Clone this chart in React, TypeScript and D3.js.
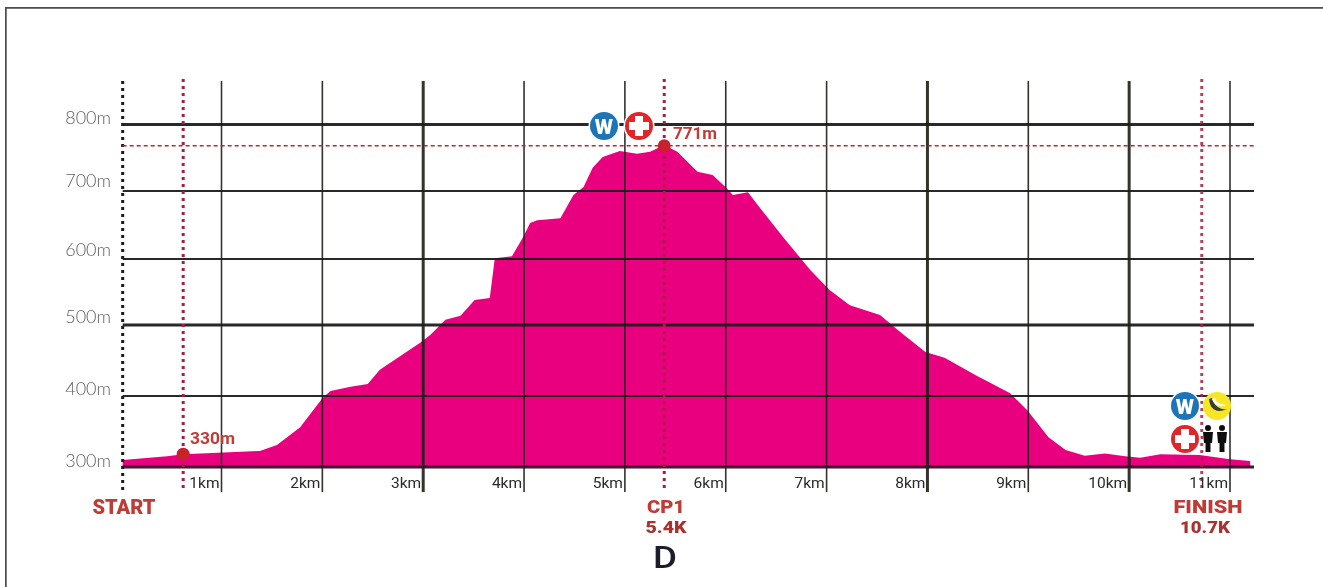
import React from "react";
import * as d3 from "d3";

const W = 1323;
const H = 587;

const kmTicks = [1, 2, 3, 4, 5, 6, 7, 8, 9, 10, 11];
const thickKm = [3, 8, 10];
const elevTicks = [300, 400, 500, 600, 700, 800];
const thickElev = [300, 500, 800];
const elevAxisPx = [467, 396, 325, 259, 191, 124.5];
const elevLabelShift = [0, -1, -2, -3, -4, -0.5];

const profileKm = [
  0.02, 0.46, 0.62, 1.38, 1.55, 1.78, 2.0, 2.08, 2.28, 2.45, 2.57, 2.77, 2.97, 3.07, 3.22, 3.37, 3.51, 3.66, 3.71,
  3.88, 3.99, 4.06, 4.13, 4.36, 4.49, 4.59, 4.68, 4.78, 4.95, 5.12, 5.25, 5.39, 5.52, 5.72, 5.87, 6.01, 6.07, 6.22,
  6.34, 6.57, 6.84, 7.03, 7.23, 7.53, 7.73, 7.98, 8.17, 8.47, 8.82, 8.99, 9.2, 9.37, 9.56, 9.76, 9.96, 10.11, 10.31,
  10.7, 11.0, 11.2,
];
const profileElev = [
  310, 315, 318, 322.5, 331, 356, 397, 407, 413, 417, 437, 456, 475, 486, 508, 514, 538, 541, 601,
  604, 632, 653, 657, 660, 694, 706, 735, 751, 760, 756, 759, 769, 759, 729, 724, 704, 694, 698,
  675, 632, 583, 553, 530, 515, 490, 462, 454, 430, 404, 380, 342, 324, 316, 319, 315, 313, 318,
  317, 311, 308.5,
];

const checkpoints = [
  { km: 0.02, name: "START", sub: "" },
  { km: 0.62, name: "", sub: "" },
  { km: 5.39, name: "CP1", sub: "5.4K" },
  { km: 10.72, name: "FINISH", sub: "10.7K" },
];

const peakElev = 768;
const markerLow = { km: 0.62, elev: 318, label: "330m" };
const markerHigh = { km: 5.39, elev: peakElev, label: "771m" };
const stageLabel = "D";

const RED = "#c8202c";
const DOT = "#a81f45";
const TEXTRED = "#c13a35";
const MAGENTA = "#e9007f";
const INK = "#1d1d1b";

const x = d3.scaleLinear().domain([1, 11]).range([221.5, 1230]);
const y = d3.scaleLinear().domain(elevTicks).range(elevAxisPx);

const areaPath = d3
  .area<number>()
  .x((d) => x(d))
  .y0(y(300))
  .y1((_, i) => y(profileElev[i]))
  .curve(d3.curveLinear)(profileKm) as string;

const X0 = x(0.02);
const XEND = 1254;

function WaterIcon({ cx, cy }: { cx: number; cy: number }) {
  return (
    <g>
      <circle cx={cx} cy={cy} r={15.5} fill="#fff" />
      <circle cx={cx} cy={cy} r={14} fill="#1f75b8" />
      <text x={cx} y={cy + 7.5} textAnchor="middle" fontFamily="Roboto" fontWeight={900} fontSize={21} fill="#fff">W</text>
    </g>
  );
}
function CrossIcon({ cx, cy }: { cx: number; cy: number }) {
  return (
    <g>
      <circle cx={cx} cy={cy} r={15.5} fill="#fff" />
      <circle cx={cx} cy={cy} r={14} fill="#e0262c" />
      <path d={`M${cx - 4} ${cy - 10}h8v6h6v8h-6v6h-8v-6h-6v-8h6z`} fill="#fff" />
    </g>
  );
}
function Banana({ cx, cy }: { cx: number; cy: number }) {
  return (
    <g>
      <circle cx={cx} cy={cy} r={14} fill="#f6e627" />
      <path d={`M${cx - 8} ${cy - 7}C${cx - 7} ${cy + 3} ${cx - 1} ${cy + 8} ${cx + 10} ${cy + 3}C${cx + 3} ${cy + 4} ${cx - 3} ${cy} ${cx - 5} ${cy - 8}Z`} fill="#3b3a32" />
      <path d={`M${cx - 5} ${cy - 7}C${cx - 3} ${cy - 1} ${cx + 3} ${cy + 2} ${cx + 9} ${cy - 1}C${cx + 3} ${cy - 2} ${cx - 1} ${cy - 4} ${cx - 2} ${cy - 8}Z`} fill="#fff" />
    </g>
  );
}
function Person({ cx, top }: { cx: number; top: number }) {
  return (
    <g fill="#111">
      <circle cx={cx} cy={top + 3} r={3} />
      <path d={`M${cx - 5} ${top + 7}h10l-1 11h-1.5v9h-5v-9h-1.5z`} />
    </g>
  );
}

export default function App() {
  return (
    <svg width={W} height={H} viewBox={`0 0 ${W} ${H}`} style={{ position: "absolute", left: 0, top: 0, background: "#fff" }}>
      <defs>
        <filter id="soft" x="0" y="0" width="100%" height="100%">
          <feGaussianBlur stdDeviation="0.55" />
        </filter>
      </defs>
      <g filter="url(#soft)">
        <path d={`M5.5 ${H}V7.5H${W}`} fill="none" stroke="#4d4d4d" strokeWidth={2.4} />

        <path d={areaPath} fill={MAGENTA} />

        {elevTicks.map((t) => (
          <line key={t} x1={X0} x2={XEND} y1={y(t)} y2={y(t)} stroke={t === 300 ? "#3a0a2a" : INK} strokeWidth={thickElev.includes(t) ? 3 : 1.8} opacity={0.95} />
        ))}
        {kmTicks.map((k) => (
          <line key={k} x1={x(k)} x2={x(k)} y1={81} y2={492} stroke={INK} strokeWidth={thickKm.includes(k) ? 3 : 1.6} opacity={0.9} />
        ))}

        <line x1={X0} x2={X0} y1={81} y2={492} stroke={INK} strokeWidth={3} strokeDasharray="3 4" />
        <line x1={x(0.62)} x2={x(0.62)} y1={79} y2={492} stroke={DOT} strokeWidth={3} strokeDasharray="3 4" />
        <line x1={x(5.39)} x2={x(5.39)} y1={79} y2={492} stroke={DOT} strokeWidth={3} strokeDasharray="3 4" />
        <line x1={x(10.72)} x2={x(10.72)} y1={79} y2={492} stroke={DOT} strokeWidth={3} strokeDasharray="3 4" opacity={0.85} />
        <line x1={X0} x2={XEND} y1={y(peakElev)} y2={y(peakElev)} stroke={RED} strokeWidth={1.5} strokeDasharray="4 3" />

        <circle cx={x(markerLow.km)} cy={y(markerLow.elev)} r={6.5} fill={RED} />
        <circle cx={x(markerHigh.km)} cy={y(markerHigh.elev)} r={6.5} fill={RED} />
        <text x={190} y={444} fontFamily="Roboto" fontWeight={700} fontSize={16} textLength={45} lengthAdjust="spacingAndGlyphs" fill={TEXTRED}>{markerLow.label}</text>
        <text x={673} y={139} fontFamily="Roboto" fontWeight={700} fontSize={16} textLength={44} lengthAdjust="spacingAndGlyphs" fill={TEXTRED}>{markerHigh.label}</text>

        {elevTicks.map((t, i) => (
          <text key={t} x={111} y={y(t) + elevLabelShift[i]} textAnchor="end" fontFamily="Lato" fontWeight={300} fontSize={18} fill="#5f5f5f">{`${t}m`}</text>
        ))}
        {kmTicks.map((k) => (
          <text key={k} x={x(k) - 2} y={488} textAnchor="end" fontFamily="Roboto" fontWeight={400} fontSize={15.5} fill="#2a2a2a">{`${k}km`}</text>
        ))}

        <text x={124} y={514} textAnchor="middle" fontFamily="Roboto" fontWeight={900} fontSize={20} textLength={63} lengthAdjust="spacingAndGlyphs" fill={TEXTRED}>{checkpoints[0].name}</text>
        <text x={666} y={513} textAnchor="middle" fontFamily="Roboto" fontWeight={900} fontSize={18} textLength={38} lengthAdjust="spacingAndGlyphs" fill={TEXTRED}>{checkpoints[2].name}</text>
        <text x={666} y={533} textAnchor="middle" fontFamily="Roboto" fontWeight={900} fontSize={17} textLength={41} lengthAdjust="spacingAndGlyphs" fill="#a8302e">{checkpoints[2].sub}</text>
        <text x={1208} y={513} textAnchor="middle" fontFamily="Roboto" fontWeight={900} fontSize={18} textLength={69} lengthAdjust="spacingAndGlyphs" fill={TEXTRED}>{checkpoints[3].name}</text>
        <text x={1205} y={533} textAnchor="middle" fontFamily="Roboto" fontWeight={900} fontSize={17} textLength={50} lengthAdjust="spacingAndGlyphs" fill="#a8302e">{checkpoints[3].sub}</text>
        <text x={665} y={568} textAnchor="middle" fontFamily="Roboto" fontWeight={500} fontSize={31} textLength={24} lengthAdjust="spacingAndGlyphs" fill="#1f1f2b">{stageLabel}</text>

        <WaterIcon cx={604} cy={126} />
        <CrossIcon cx={639} cy={126} />
        <WaterIcon cx={1185} cy={406} />
        <Banana cx={1217} cy={406} />
        <CrossIcon cx={1185} cy={439} />
        <Person cx={1208} top={425} />
        <Person cx={1222} top={425} />
      </g>
    </svg>
  );
}
